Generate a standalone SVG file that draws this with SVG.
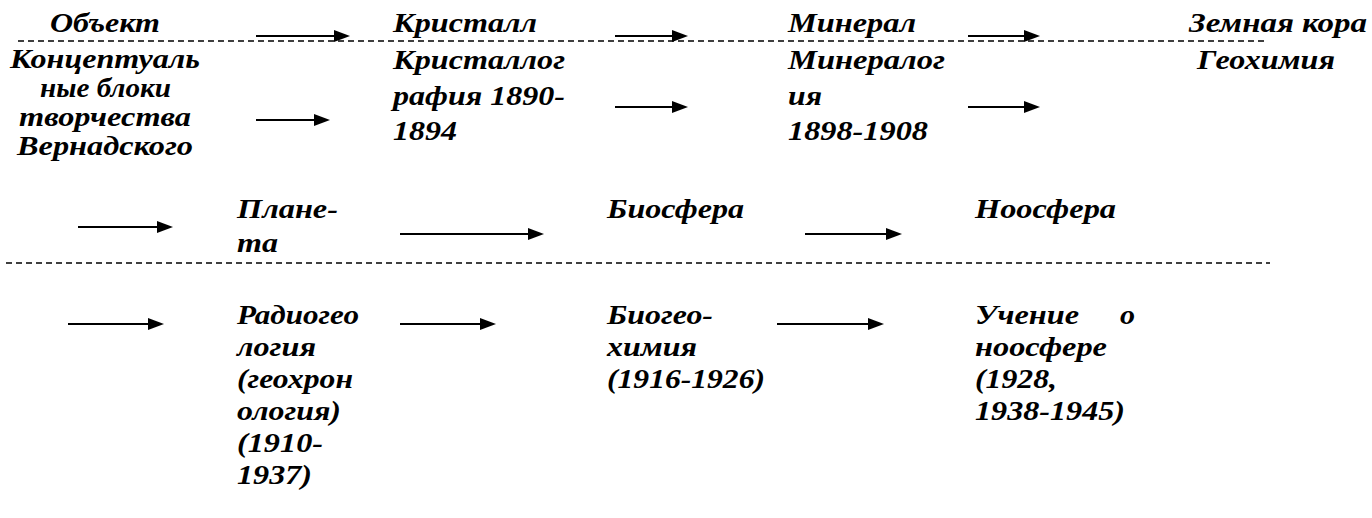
<svg xmlns="http://www.w3.org/2000/svg" width="1372" height="518" viewBox="0 0 1372 518">
<defs>
<path id="ah" d="M0,-6 L16,0 L0,6 Z" fill="#000"/>
</defs>
<rect width="1372" height="518" fill="#fff"/>
<g id="connectors">
<g stroke="#000" stroke-width="1.5" stroke-dasharray="6,4" fill="none">
<line x1="18" y1="41" x2="1267" y2="41"/>
<line x1="6" y1="263" x2="1270" y2="263"/>
</g>
<g stroke="#000" stroke-width="2" fill="none">
<line x1="256" y1="36" x2="336" y2="36"/>
<line x1="615" y1="36" x2="674" y2="36"/>
<line x1="968" y1="36" x2="1026" y2="36"/>
<line x1="256" y1="120" x2="316" y2="120"/>
<line x1="615" y1="107" x2="674" y2="107"/>
<line x1="968" y1="107" x2="1026" y2="107"/>
<line x1="78" y1="227" x2="159" y2="227"/>
<line x1="400" y1="234" x2="530" y2="234"/>
<line x1="805" y1="234" x2="888" y2="234"/>
<line x1="68" y1="324" x2="150" y2="324"/>
<line x1="400" y1="324" x2="482" y2="324"/>
<line x1="777" y1="324" x2="870" y2="324"/>
</g>
<use href="#ah" x="334" y="36"/>
<use href="#ah" x="672" y="36"/>
<use href="#ah" x="1024" y="36"/>
<use href="#ah" x="314" y="120"/>
<use href="#ah" x="672" y="107"/>
<use href="#ah" x="1024" y="107"/>
<use href="#ah" x="157" y="227"/>
<use href="#ah" x="528" y="234"/>
<use href="#ah" x="886" y="234"/>
<use href="#ah" x="148" y="324"/>
<use href="#ah" x="480" y="324"/>
<use href="#ah" x="868" y="324"/>
</g>
<g id="n-object"><text font-family="Liberation Serif" font-weight="bold" font-style="italic" font-size="27" x="50" y="32" textLength="110" lengthAdjust="spacingAndGlyphs">Объект</text></g>
<g id="n-crystal"><text font-family="Liberation Serif" font-weight="bold" font-style="italic" font-size="27" x="393" y="32" textLength="144" lengthAdjust="spacingAndGlyphs">Кристалл</text></g>
<g id="n-mineral"><text font-family="Liberation Serif" font-weight="bold" font-style="italic" font-size="27" x="788" y="32" textLength="128" lengthAdjust="spacingAndGlyphs">Минерал</text></g>
<g id="n-crust"><text font-family="Liberation Serif" font-weight="bold" font-style="italic" font-size="27" x="1189" y="32" textLength="178" lengthAdjust="spacingAndGlyphs">Земная кора</text></g>
<g id="n-blocks">
<text font-family="Liberation Serif" font-weight="bold" font-style="italic" font-size="27" x="10" y="68" textLength="190" lengthAdjust="spacingAndGlyphs">Концептуаль</text>
<text font-family="Liberation Serif" font-weight="bold" font-style="italic" font-size="27" x="40" y="97" textLength="131" lengthAdjust="spacingAndGlyphs">ные блоки</text>
<text font-family="Liberation Serif" font-weight="bold" font-style="italic" font-size="27" x="19" y="126" textLength="172" lengthAdjust="spacingAndGlyphs">творчества</text>
<text font-family="Liberation Serif" font-weight="bold" font-style="italic" font-size="27" x="17" y="155" textLength="176" lengthAdjust="spacingAndGlyphs">Вернадского</text>
</g>
<g id="n-crystallography">
<text font-family="Liberation Serif" font-weight="bold" font-style="italic" font-size="27" x="393" y="69" textLength="172" lengthAdjust="spacingAndGlyphs">Кристаллог</text>
<text font-family="Liberation Serif" font-weight="bold" font-style="italic" font-size="27" x="393" y="105" textLength="172" lengthAdjust="spacingAndGlyphs">рафия 1890-</text>
<text font-family="Liberation Serif" font-weight="bold" font-style="italic" font-size="27" x="393" y="140" textLength="64" lengthAdjust="spacingAndGlyphs">1894</text>
</g>
<g id="n-mineralogy">
<text font-family="Liberation Serif" font-weight="bold" font-style="italic" font-size="27" x="788" y="69" textLength="157" lengthAdjust="spacingAndGlyphs">Минералог</text>
<text font-family="Liberation Serif" font-weight="bold" font-style="italic" font-size="27" x="788" y="105" textLength="34" lengthAdjust="spacingAndGlyphs">ия</text>
<text font-family="Liberation Serif" font-weight="bold" font-style="italic" font-size="27" x="788" y="140" textLength="140" lengthAdjust="spacingAndGlyphs">1898-1908</text>
</g>
<g id="n-geochem"><text font-family="Liberation Serif" font-weight="bold" font-style="italic" font-size="27" x="1197" y="69" textLength="138" lengthAdjust="spacingAndGlyphs">Геохимия</text></g>
<g id="n-planet">
<text font-family="Liberation Serif" font-weight="bold" font-style="italic" font-size="27" x="237" y="218" textLength="101" lengthAdjust="spacingAndGlyphs">Плане-</text>
<text font-family="Liberation Serif" font-weight="bold" font-style="italic" font-size="27" x="237" y="252" textLength="41" lengthAdjust="spacingAndGlyphs">та</text>
</g>
<g id="n-biosphere"><text font-family="Liberation Serif" font-weight="bold" font-style="italic" font-size="27" x="607" y="218" textLength="137" lengthAdjust="spacingAndGlyphs">Биосфера</text></g>
<g id="n-noosphere"><text font-family="Liberation Serif" font-weight="bold" font-style="italic" font-size="27" x="975" y="218" textLength="141" lengthAdjust="spacingAndGlyphs">Ноосфера</text></g>
<g id="n-radio">
<text font-family="Liberation Serif" font-weight="bold" font-style="italic" font-size="27" x="237" y="324" textLength="122" lengthAdjust="spacingAndGlyphs">Радиогео</text>
<text font-family="Liberation Serif" font-weight="bold" font-style="italic" font-size="27" x="237" y="356" textLength="79" lengthAdjust="spacingAndGlyphs">логия</text>
<text font-family="Liberation Serif" font-weight="bold" font-style="italic" font-size="27" x="237" y="388" textLength="116" lengthAdjust="spacingAndGlyphs">(геохрон</text>
<text font-family="Liberation Serif" font-weight="bold" font-style="italic" font-size="27" x="237" y="420" textLength="104" lengthAdjust="spacingAndGlyphs">ология)</text>
<text font-family="Liberation Serif" font-weight="bold" font-style="italic" font-size="27" x="237" y="452" textLength="86" lengthAdjust="spacingAndGlyphs">(1910-</text>
<text font-family="Liberation Serif" font-weight="bold" font-style="italic" font-size="27" x="237" y="484" textLength="75" lengthAdjust="spacingAndGlyphs">1937)</text>
</g>
<g id="n-biogeo">
<text font-family="Liberation Serif" font-weight="bold" font-style="italic" font-size="27" x="607" y="324" textLength="106" lengthAdjust="spacingAndGlyphs">Биогео-</text>
<text font-family="Liberation Serif" font-weight="bold" font-style="italic" font-size="27" x="607" y="356" textLength="90" lengthAdjust="spacingAndGlyphs">химия</text>
<text font-family="Liberation Serif" font-weight="bold" font-style="italic" font-size="27" x="607" y="388" textLength="158" lengthAdjust="spacingAndGlyphs">(1916-1926)</text>
</g>
<g id="n-teaching">
<text font-family="Liberation Serif" font-weight="bold" font-style="italic" font-size="27" x="975" y="324" textLength="104" lengthAdjust="spacingAndGlyphs">Учение</text>
<text font-family="Liberation Serif" font-weight="bold" font-style="italic" font-size="27" x="1120" y="324" textLength="15" lengthAdjust="spacingAndGlyphs">о</text>
<text font-family="Liberation Serif" font-weight="bold" font-style="italic" font-size="27" x="975" y="356" textLength="132" lengthAdjust="spacingAndGlyphs">ноосфере</text>
<text font-family="Liberation Serif" font-weight="bold" font-style="italic" font-size="27" x="975" y="388" textLength="82" lengthAdjust="spacingAndGlyphs">(1928,</text>
<text font-family="Liberation Serif" font-weight="bold" font-style="italic" font-size="27" x="975" y="420" textLength="150" lengthAdjust="spacingAndGlyphs">1938-1945)</text>
</g>
</svg>
